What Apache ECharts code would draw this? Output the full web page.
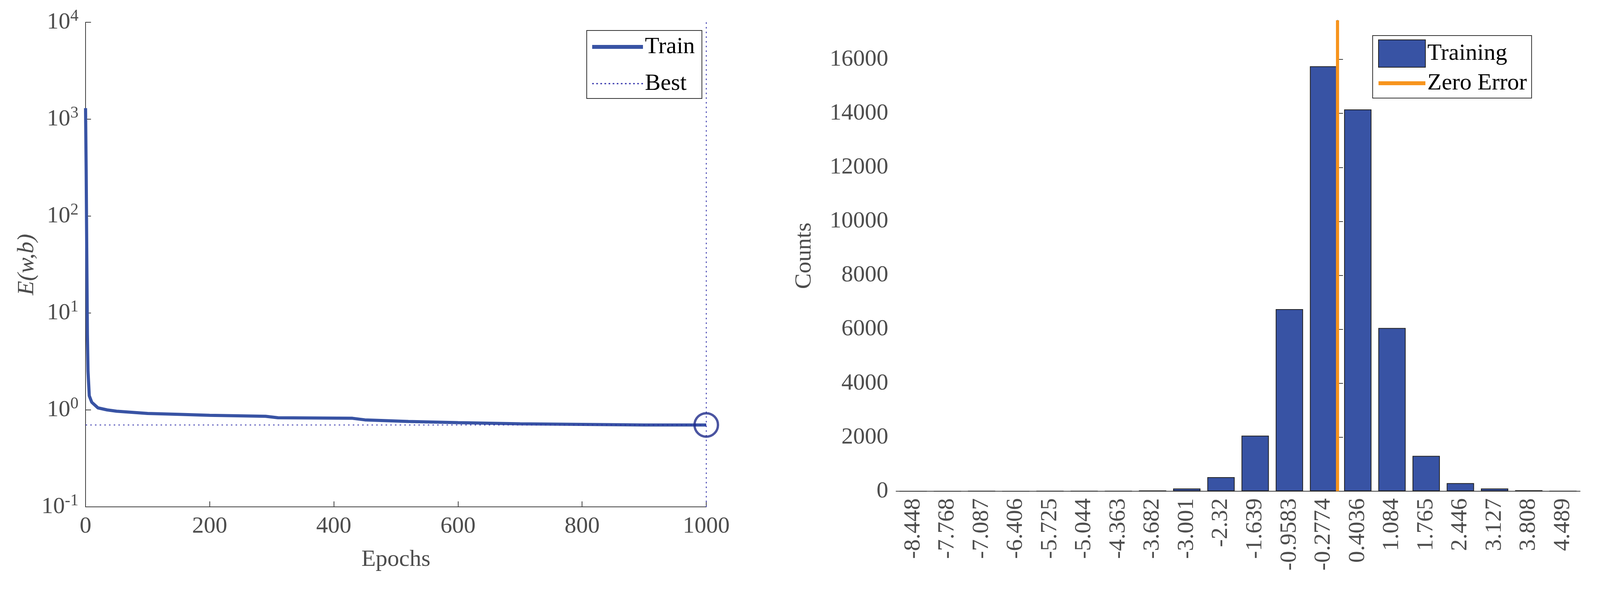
<!DOCTYPE html>
<html><head><meta charset="utf-8">
<script src="https://cdn.jsdelivr.net/npm/echarts@6/dist/echarts.min.js"></script>
<style>html,body{margin:0;padding:0;background:#fff}#c{width:4174px;height:1520px}</style>
</head><body><div id="c"></div>
<script>
const epochs = [0, 1, 2, 3, 4, 6, 10, 20, 35, 50, 100, 150, 200, 290, 310, 430, 450, 520, 600, 700, 800, 900, 1000];
const trainLoss = [1300, 300, 40, 6, 2.5, 1.4, 1.2, 1.05, 1.0, 0.97, 0.92, 0.9, 0.88, 0.86, 0.83, 0.82, 0.79, 0.76, 0.74, 0.72, 0.71, 0.70, 0.70];
const bestEpoch = 1000;
const bestLoss = 0.70;
const binLabels = ['-8.448','-7.768','-7.087','-6.406','-5.725','-5.044','-4.363','-3.682','-3.001','-2.32','-1.639','-0.9583','-0.2774','0.4036','1.084','1.765','2.446','3.127','3.808','4.489'];
const binCenters = [-8.448,-7.768,-7.087,-6.406,-5.725,-5.044,-4.363,-3.682,-3.001,-2.32,-1.639,-0.9583,-0.2774,0.4036,1.084,1.765,2.446,3.127,3.808,4.489];
const counts = [2, 3, 4, 3, 4, 5, 8, 30, 100, 520, 2060, 6750, 15750, 14150, 6050, 1310, 300, 100, 35, 5];
const zeroError = 0;

const F = 'Liberation Serif';
const ax = '#404040', lab = '#4d4d4d';
const FS = 60;
let dots = '';
for (let i = 0; i < 130; i += 10) dots += 'M' + i + ',0h4v3h-4z';
const chart = echarts.init(document.getElementById('c'));
const half = (binCenters[1]-binCenters[0])/2;
chart.setOption({
  animation: false,
  textStyle: {fontFamily: F},
  grid: [
    {left: 219, top: 57, width: 1589, height: 1240},
    {left: 2294, top: 52, width: 1751, height: 1205}
  ],
  legend: [
    {data: [{name: 'Train', icon: 'path://M0,0h130v10h-130z', itemStyle: {color: '#3853a4'}},
            {name: 'Best', icon: 'path://' + dots, itemStyle: {color: '#2b2ba8'}}],
     left: 1502, top: 78, orient: 'vertical', itemWidth: 130, itemHeight: 10, itemGap: 34,
     textStyle: {fontFamily: F, fontSize: FS, color: '#000'}, borderColor: '#333', borderWidth: 2, padding: [12, 18, 8, 14]},
    {data: [{name: 'Training', icon: 'rect'}, {name: 'Zero Error', icon: 'path://M0,30h120v10h-120z', itemStyle: {color: '#f7941d'}}],
     left: 3514, top: 91, orient: 'vertical', itemWidth: 120, itemHeight: 70, itemGap: 10,
     textStyle: {fontFamily: F, fontSize: FS, color: '#000'}, borderColor: '#333', borderWidth: 2, padding: [10, 12, 8, 14]}
  ],
  xAxis: [
    {type: 'value', gridIndex: 0, min: 0, max: 1000, interval: 200, name: 'Epochs', nameLocation: 'middle', nameGap: 105,
     nameTextStyle: {fontFamily: F, fontSize: FS, color: lab},
     axisLine: {onZero: false, lineStyle: {color: ax, width: 2}}, axisTick: {inside: true, length: 14, lineStyle: {color: ax, width: 2}},
     axisLabel: {fontFamily: F, fontSize: FS, color: lab, margin: 20, formatter: v => String(v)}, splitLine: {show: false}},
    {type: 'category', gridIndex: 1, data: binLabels, boundaryGap: true,
     axisLine: {lineStyle: {color: ax, width: 2}}, axisTick: {alignWithLabel: true, inside: true, length: 14, lineStyle: {color: ax, width: 2}},
     axisLabel: {fontFamily: F, fontSize: FS, color: lab, rotate: 90, interval: 0, margin: 18}},
    {type: 'value', gridIndex: 1, min: binCenters[0]-half, max: binCenters[binCenters.length-1]+half, show: false}
  ],
  yAxis: [
    {type: 'log', gridIndex: 0, min: 0.1, max: 10000, logBase: 10, name: 'E(w,b)', nameLocation: 'middle', nameGap: 120,
     nameTextStyle: {fontFamily: F, fontSize: FS, color: lab, fontStyle: 'italic'},
     axisLine: {lineStyle: {color: ax, width: 2}}, axisTick: {inside: true, length: 14, lineStyle: {color: ax, width: 2}},
     axisLabel: {fontFamily: F, fontSize: FS, color: lab, margin: 18,
       formatter: v => '10{s|' + Math.round(Math.log10(v)) + '}',
       rich: {s: {fontFamily: F, fontSize: 42, color: lab, verticalAlign: 'top', padding: [0, 0, 30, 0]}}},
     splitLine: {show: false}},
    {type: 'value', gridIndex: 1, min: 0, max: 17450, interval: 2000, name: 'Counts', nameLocation: 'middle', nameGap: 205,
     nameTextStyle: {fontFamily: F, fontSize: FS, color: lab},
     axisLine: {show: true, lineStyle: {color: ax, width: 2}}, axisTick: {show: true, inside: true, length: 14, lineStyle: {color: ax, width: 2}},
     axisLabel: {fontFamily: F, fontSize: FS, color: lab, margin: 20, showMaxLabel: false, formatter: v => String(v)}, splitLine: {show: false}}
  ],
  series: [
    {name: 'Train', type: 'line', xAxisIndex: 0, yAxisIndex: 0, data: epochs.map((e, i) => [e, trainLoss[i]]),
     symbol: 'none', lineStyle: {color: '#3853a4', width: 8}, itemStyle: {color: '#3853a4'}, z: 3},
    {name: 'Best', type: 'line', xAxisIndex: 0, yAxisIndex: 0, data: [[0, bestLoss], [bestEpoch, bestLoss]],
     symbol: 'none', lineStyle: {color: '#2b2ba8', width: 2, type: [4, 8]}, itemStyle: {color: '#2b2ba8'}},
    {name: 'BestV', type: 'line', xAxisIndex: 0, yAxisIndex: 0, data: [[bestEpoch, 0.1], [bestEpoch, 10000]],
     symbol: 'none', lineStyle: {color: '#2b2ba8', width: 2, type: [4, 8]}},
    {name: 'BestPt', type: 'scatter', xAxisIndex: 0, yAxisIndex: 0, data: [[bestEpoch, bestLoss]], symbol: 'circle', symbolSize: 60,
     itemStyle: {color: 'rgba(0,0,0,0)', borderColor: '#1e2a8a', borderWidth: 6}, z: 5},
    {name: 'Training', type: 'bar', xAxisIndex: 1, yAxisIndex: 1, data: counts, barWidth: '80%',
     itemStyle: {color: '#3853a4', borderColor: '#222', borderWidth: 2}},
    {name: 'Zero Error', type: 'line', xAxisIndex: 2, yAxisIndex: 1, data: [[zeroError, 0], [zeroError, 17450]],
     symbol: 'none', lineStyle: {color: '#f7941d', width: 8}, itemStyle: {color: '#f7941d'}, z: 4}
  ]
});
</script></body></html>
